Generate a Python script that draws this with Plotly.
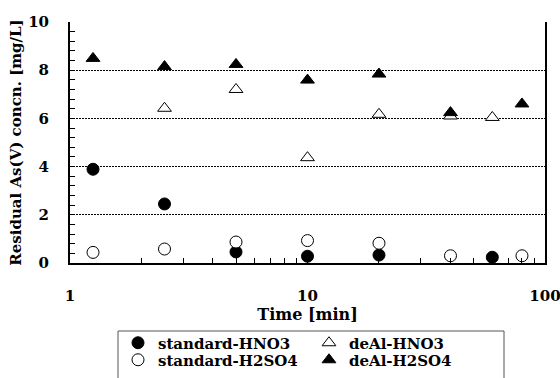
import plotly.graph_objects as go

# Data
t_std_hno3 = [1.25, 2.5, 5, 10, 20, 60]
v_std_hno3 = [3.89, 2.45, 0.46, 0.28, 0.33, 0.24]

t_std_h2so4 = [1.25, 2.5, 5, 10, 20, 40, 80]
v_std_h2so4 = [0.44, 0.58, 0.87, 0.93, 0.82, 0.30, 0.30]

t_deal_hno3 = [2.5, 5, 10, 20, 40, 60]
v_deal_hno3 = [6.42, 7.20, 4.37, 6.17, 6.10, 6.04]

t_deal_h2so4 = [1.25, 2.5, 5, 10, 20, 40, 80]
v_deal_h2so4 = [8.49, 8.15, 8.24, 7.59, 7.84, 6.24, 6.60]

x_tickvals = [1, 2, 3, 4, 5, 6, 7, 8, 9, 10, 20, 30, 40, 50, 60, 70, 80, 90, 100]
x_ticktext = ["1"] + [""] * 8 + ["10"] + [""] * 8 + ["100"]

FONT = "DejaVu Serif, Liberation Serif, serif"

fig = go.Figure()

def add(name, x, y, symbol, filled, legend):
    fig.add_trace(go.Scatter(
        x=x, y=y, mode="markers", name=name, legend=legend,
        marker=dict(
            symbol=symbol, size=12,
            color="black" if filled else "white",
            line=dict(color="black", width=1),
        ),
    ))

add("standard-HNO3", t_std_hno3, v_std_hno3, "circle", True, "legend")
add("deAl-HNO3", t_deal_hno3, v_deal_hno3, "triangle-up", False, "legend")
add("standard-H2SO4", t_std_h2so4, v_std_h2so4, "circle", False, "legend2")
add("deAl-H2SO4", t_deal_h2so4, v_deal_h2so4, "triangle-up", True, "legend2")

legend_common = dict(
    orientation="h",
    xref="container", x=118 / 560, xanchor="left",
    yref="container", yanchor="middle",
    entrywidth=146,
    bgcolor="rgba(0,0,0,0)",
    borderwidth=0,
    font=dict(family=FONT, size=15, color="black", weight="bold"),
    itemwidth=30,
)

fig.update_layout(
    width=560, height=378,
    margin=dict(l=70, r=15, t=22, b=115, autoexpand=False),
    paper_bgcolor="white", plot_bgcolor="white",
    font=dict(family=FONT, size=15, color="black"),
    showlegend=True,
    legend=dict(legend_common, y=1 - 343 / 378),
    legend2=dict(legend_common, y=1 - 360 / 378),
    shapes=[dict(
        type="rect", xref="paper", yref="paper",
        x0=(118 - 70) / 475, x1=(504 - 70) / 475,
        y0=(263 - 331) / 241, y1=(263 - 395) / 241,
        line=dict(color="#555555", width=1), fillcolor="rgba(0,0,0,0)",
        layer="above",
    )],
)

fig.update_xaxes(
    type="log", range=[0, 2],
    tickmode="array", tickvals=x_tickvals, ticktext=x_ticktext,
    ticks="inside", ticklen=5, tickwidth=1, tickcolor="black",
    showline=True, linecolor="black", linewidth=2,
    showgrid=False, zeroline=False, automargin=False,
    ticklabelstandoff=18, ticklabeloverflow="allow",
    tickfont=dict(family=FONT, size=15, weight="bold"),
    title=dict(text="Time [min]", font=dict(family=FONT, size=16, weight="bold"), standoff=1),
)

fig.update_yaxes(
    range=[0, 10], dtick=2,
    ticks="inside", ticklen=5, tickwidth=1, tickcolor="black",
    showline=True, linecolor="black", linewidth=2, mirror=True,
    showgrid=True, gridcolor="black", gridwidth=1, griddash="2px,1px",
    zeroline=False, automargin=False,
    minor=dict(dtick=0.4, ticks="inside", ticklen=5, tickwidth=1, tickcolor="black", showgrid=False),
    tickfont=dict(family=FONT, size=15, weight="bold"),
    ticklabelstandoff=16,
    title=dict(text="Residual As(V) concn. [mg/L]", font=dict(family=FONT, size=15, weight="bold"), standoff=3),
)

fig.write_html("out.html")
